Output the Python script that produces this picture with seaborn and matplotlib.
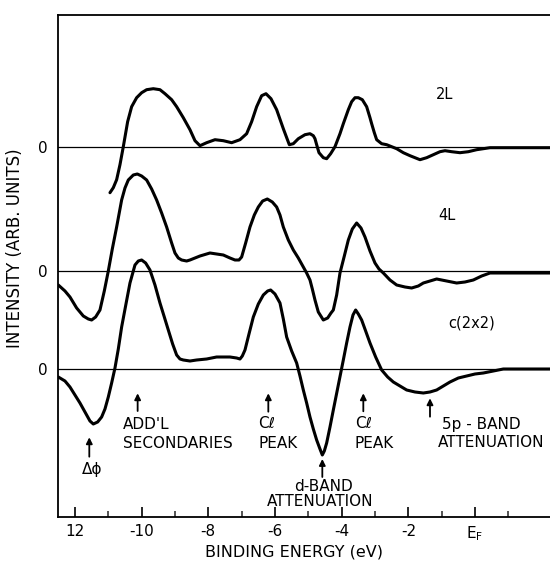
import numpy as np
import pandas as pd
import matplotlib
matplotlib.use("Agg")
import matplotlib.pyplot as plt
import seaborn as sns

# ---------------- data ----------------
energy_2L = [-10.95, -10.85, -10.75, -10.65, -10.55, -10.42, -10.30, -10.15, -10.00, -9.85,
             -9.65, -9.45, -9.30, -9.10, -8.95, -8.75, -8.55, -8.40, -8.25, -8.05,
             -7.80, -7.55, -7.30, -7.05, -6.85, -6.70, -6.55, -6.40, -6.27, -6.12,
             -5.95, -5.75, -5.57, -5.45, -5.30, -5.10, -4.95, -4.85, -4.80, -4.75,
             -4.68, -4.55, -4.45, -4.33, -4.20, -4.05, -3.95, -3.80, -3.70, -3.60,
             -3.50, -3.38, -3.25, -3.15, -3.10, -3.02, -2.95, -2.80, -2.65, -2.50,
             -2.35, -2.15, -1.95, -1.80, -1.65, -1.45, -1.25, -1.05, -0.90, -0.70,
             -0.45, -0.20, 0.05, 0.45, 1.05, 2.25]
int_2L = [-46, -41, -33, -18, 0, 25, 40, 49, 54, 57,
          58, 57, 53, 47, 40, 29, 17, 6, 1, 4,
          7, 6, 4, 7, 13, 25, 40, 51, 53, 48,
          37, 18, 2, 3, 8, 12, 13, 11, 8, 2,
          -6, -11, -12, -7, 0, 13, 23, 37, 45, 49,
          49, 47, 40, 29, 23, 14, 7, 3, 2, 0,
          -2, -6, -9, -11, -13, -11, -8, -5, -4, -5,
          -6, -5, -3, -1, -1, -1]

energy_4L = [-12.50, -12.30, -12.15, -11.95, -11.75, -11.60, -11.50, -11.38, -11.25, -11.12,
             -11.00, -10.88, -10.75, -10.60, -10.50, -10.40, -10.25, -10.13, -10.00, -9.85,
             -9.70, -9.55, -9.40, -9.25, -9.10, -9.00, -8.90, -8.80, -8.65, -8.55,
             -8.25, -7.95, -7.75, -7.55, -7.35, -7.20, -7.08, -7.00, -6.88, -6.75,
             -6.62, -6.50, -6.37, -6.23, -6.08, -5.95, -5.85, -5.75, -5.60, -5.45,
             -5.30, -5.15, -5.05, -4.95, -4.88, -4.80, -4.70, -4.55, -4.42, -4.32,
             -4.25, -4.15, -4.05, -3.92, -3.80, -3.68, -3.55, -3.42, -3.30, -3.15,
             -3.00, -2.88, -2.75, -2.55, -2.35, -2.10, -1.90, -1.70, -1.55, -1.35,
             -1.15, -0.85, -0.55, -0.30, -0.05, 0.20, 0.45, 0.75, 2.25]
int_4L = [-14, -20, -26, -37, -45, -48, -49, -46, -39, -20,
          0, 22, 44, 71, 83, 91, 96, 97, 95, 91,
          82, 71, 58, 44, 28, 18, 13, 11, 10, 11,
          15, 18, 17, 16, 13, 11, 11, 14, 28, 44,
          56, 64, 70, 72, 69, 64, 56, 44, 31, 21,
          13, 4, -2, -9, -18, -29, -41, -49, -47, -42,
          -39, -24, -2, 15, 31, 42, 48, 43, 34, 20,
          8, 2, -2, -9, -14, -16, -17, -15, -12, -10,
          -8, -10, -12, -11, -9, -5, -2, -2, -2]

energy_c2x2 = [-12.50, -12.30, -12.15, -12.00, -11.85, -11.65, -11.55, -11.45, -11.32, -11.20,
               -11.10, -11.00, -10.90, -10.80, -10.70, -10.60, -10.47, -10.35, -10.20, -10.10,
               -10.00, -9.88, -9.75, -9.60, -9.45, -9.32, -9.20, -9.07, -8.95, -8.85,
               -8.75, -8.55, -8.35, -8.05, -7.75, -7.55, -7.35, -7.15, -7.05, -6.98,
               -6.90, -6.78, -6.65, -6.50, -6.35, -6.22, -6.13, -6.00, -5.85, -5.75,
               -5.65, -5.50, -5.35, -5.25, -5.15, -5.05, -4.95, -4.85, -4.75, -4.65,
               -4.58, -4.52, -4.45, -4.35, -4.25, -4.10, -3.95, -3.85, -3.75, -3.66,
               -3.58, -3.50, -3.40, -3.28, -3.15, -2.98, -2.80, -2.62, -2.45, -2.25,
               -2.05, -1.80, -1.55, -1.35, -1.15, -0.95, -0.75, -0.50, -0.25, 0.00,
               0.25, 0.55, 0.85, 2.25]
int_c2x2 = [-8, -12, -18, -26, -34, -46, -52, -55, -53, -48,
            -40, -28, -14, 1, 20, 42, 65, 86, 104, 108,
            109, 106, 99, 84, 66, 52, 39, 25, 14, 10,
            9, 8, 9, 10, 12, 12, 12, 11, 10, 13,
            19, 35, 52, 65, 74, 78, 79, 75, 66, 50,
            32, 18, 6, -7, -21, -34, -48, -60, -71, -80,
            -86, -82, -74, -58, -41, -16, 9, 26, 42, 54,
            59, 55, 49, 38, 26, 12, -1, -8, -13, -17,
            -21, -23, -24, -23, -21, -17, -13, -9, -7, -5,
            -4, -2, 0, 0]

series_names = ["2L", "4L", "c(2x2)"]
tick_values = [-12, -10, -8, -6, -4, -2, 0]
tick_labels = ["12", "-10", "-8", "-6", "-4", "-2", r"E$_\mathregular{F}$"]

# ---------------- layout ----------------
offsets = {"2L": 370.6, "4L": 246.3, "c(2x2)": 148.3}
W, H = 550, 563

sns.set_theme(style="white")
plt.rcParams["font.family"] = ["DejaVu Sans"]

fig = plt.figure(figsize=(W / 100, H / 100), dpi=100)
ax = fig.add_axes([58.3 / W, (H - 517.3) / H, (W - 58.3) / W, (517.3 - 15) / H])

frames = []
for name, e, v in [("2L", energy_2L, int_2L), ("4L", energy_4L, int_4L),
                   ("c(2x2)", energy_c2x2, int_c2x2)]:
    frames.append(pd.DataFrame({"energy": e, "intensity": v, "series": name}))
df = pd.concat(frames, ignore_index=True)
df["y"] = df["intensity"] + df["series"].map(offsets)

for name in series_names:
    ax.axhline(offsets[name], color="black", lw=0.9, zorder=1)

sns.lineplot(data=df, x="energy", y="y", units="series", estimator=None,
             sort=False, color="black", lw=2.2, ax=ax, zorder=3,
             solid_joinstyle="round", solid_capstyle="round")

ax.set_xlim(-12.5, 2.25)
ax.set_ylim(0, 502.3)

for s in ["left", "bottom", "top"]:
    ax.spines[s].set_color("black")
    ax.spines[s].set_linewidth(1.3)
ax.spines["right"].set_visible(False)

ax.set_xticks(tick_values)
ax.set_xticklabels(tick_labels)
ax.set_xticks(np.arange(-11, 1.5, 2), minor=True)
ax.tick_params(axis="x", which="major", direction="in", length=7.5, width=1.2,
               bottom=True, top=False, labelsize=11, pad=5, colors="black")
ax.tick_params(axis="x", which="minor", direction="in", length=4, width=1.1,
               bottom=True, top=False)
ax.set_yticks([offsets[n] for n in series_names])
ax.set_yticklabels(["0", "0", "0"])
ax.tick_params(axis="y", length=0, labelsize=11, pad=8, colors="black")
ax.set_xlabel("")
ax.set_ylabel("")

fig.text(294 / W, 1 - 552 / H, "BINDING ENERGY (eV)", ha="center", va="center",
         fontsize=11.5, color="black")
fig.text(15.5 / W, 1 - 248 / H, "INTENSITY (ARB. UNITS)", ha="center", va="center",
         rotation=90, fontsize=12, color="black")

# curve labels
txt = dict(color="black", fontsize=10.5, ha="center", va="center")
ax.text(-0.9, 422.3, "2L", **txt)
ax.text(-0.85, 301.3, "4L", **txt)
ax.text(-0.1, 194, "c(2x2)", **txt)

# arrows
arrow = dict(arrowstyle="-|>", color="black", lw=1.3, mutation_scale=9, shrinkA=0, shrinkB=0)
for x, y0, y1 in [(-11.57, 60.6, 80.0), (-10.12, 106.3, 124.0), (-6.20, 105.6, 124.0),
                  (-3.35, 106.0, 124.0), (-1.35, 100.6, 119.0), (-4.58, 40.3, 58.3)]:
    ax.annotate("", xy=(x, y1), xytext=(x, y0), arrowprops=arrow)

ann = dict(color="black", fontsize=11, va="center")
ax.text(-11.5, 47.3, "Δϕ", ha="center", **ann)
ax.text(-10.55, 92.3, "ADD'L", ha="left", **ann)
ax.text(-10.55, 73.3, "SECONDARIES", ha="left", **ann)
ax.text(-6.50, 94.0, "Cℓ", ha="left", **ann)
ax.text(-6.50, 74.0, "PEAK", ha="left", **ann)
ax.text(-3.60, 94.0, "Cℓ", ha="left", **ann)
ax.text(-3.60, 74.0, "PEAK", ha="left", **ann)
ax.text(-1.0, 92.3, "5p - BAND", ha="left", **ann)
ax.text(-1.1, 74.3, "ATTENUATION", ha="left", clip_on=False, **ann)
ax.text(-4.55, 30.3, "d-BAND", ha="center", **ann)
ax.text(-4.65, 15.6, "ATTENUATION", ha="center", **ann)

fig.savefig("out.png", dpi=100)
